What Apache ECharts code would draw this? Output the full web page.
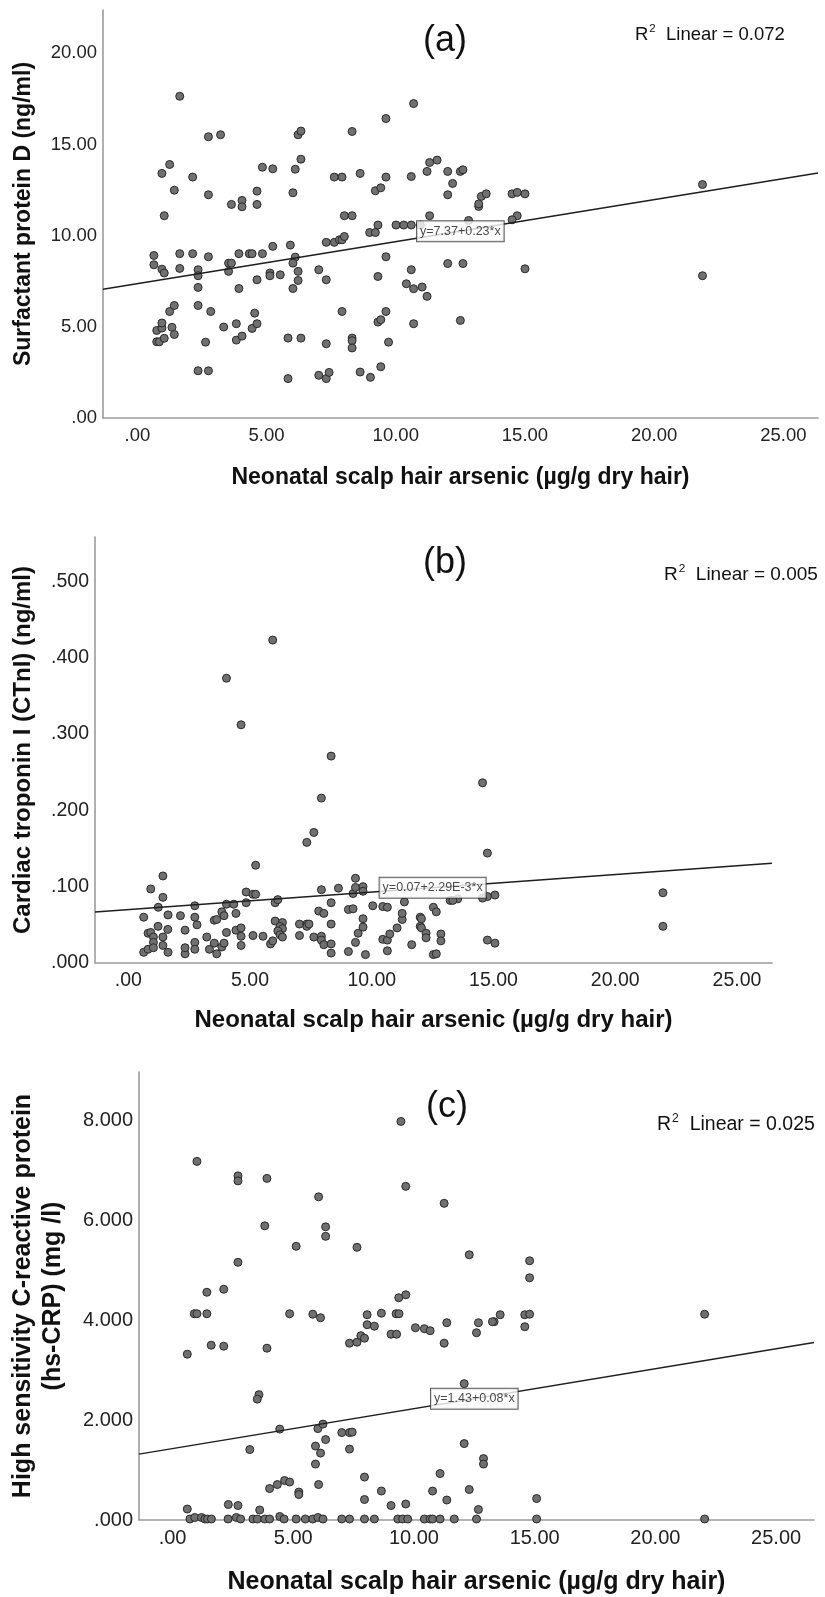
<!DOCTYPE html>
<html>
<head>
<meta charset="utf-8">
<title>Neonatal scalp hair arsenic scatter plots</title>
<script src="https://cdn.jsdelivr.net/npm/echarts@6/dist/echarts.min.js"></script>
<style>
  html, body { margin: 0; padding: 0; background: #fff; }
  #chart { width: 825px; height: 1597px; }
</style>
</head>
<body>
<div id="chart"></div>
<script>
// tick values
const xTicks = [0, 5, 10, 15, 20, 25];
const aYTicks = [0, 5, 10, 15, 20];
const bYTicks = [0, 0.1, 0.2, 0.3, 0.4, 0.5];
const cYTicks = [0, 2, 4, 6, 8];

// (a) surfactant protein D
const aPoints = [
  [1.64,17.64],[0.95,13.41],[1.25,13.90],[1.43,12.49],[1.04,11.09],[2.14,13.21],[2.75,15.42],[3.22,15.53],
  [2.75,12.24],[3.64,11.71],[4.05,11.93],[4.05,11.58],[4.63,12.44],[4.63,11.71],[4.84,13.75],[5.24,13.66],
  [6.02,12.35],[6.11,13.64],[6.22,15.53],[6.33,15.73],[6.33,14.19],[7.62,13.21],[7.92,13.21],[8.62,13.41],
  [8.31,15.71],[8.01,11.09],[8.31,11.09],[9.21,12.46],[9.42,12.62],[9.62,13.21],[9.62,16.42],[10.60,13.24],
  [10.69,17.24],[8.99,10.17],[9.21,10.17],[9.31,10.58],[10.01,10.58],[10.31,10.58],[10.60,10.58],
  [0.64,8.91],[0.64,8.40],[0.95,8.16],[1.04,7.95],[1.64,9.01],[1.64,8.20],[2.14,9.01],[2.35,8.13],
  [2.35,7.80],[2.35,7.16],[2.75,8.84],[3.53,8.49],[3.64,8.49],[3.53,8.04],[3.93,9.01],[3.93,7.10],
  [4.33,9.01],[4.44,9.01],[4.84,9.01],[4.63,7.58],[5.24,9.41],[5.13,7.95],[5.13,7.80],[5.53,7.85],
  [5.92,9.48],[6.11,8.82],[6.02,8.49],[6.22,8.04],[6.22,7.54],[6.02,7.10],[7.02,8.13],[7.31,9.63],
  [7.62,9.63],[7.82,9.77],[7.92,9.77],[8.01,9.95],[7.31,7.58],[9.62,8.84],[9.31,7.76],[10.60,8.13],
  [10.41,7.36],[10.69,7.09],
  [0.75,4.18],[0.85,4.18],[0.75,4.80],[0.95,4.93],[0.95,5.21],[1.04,4.37],[1.34,4.97],[1.43,4.58],
  [1.25,5.84],[1.43,6.17],[2.35,6.17],[2.84,5.84],[2.64,4.16],[2.35,2.59],[2.75,2.59],[3.34,4.99],
  [3.83,5.17],[3.83,4.27],[4.05,4.49],[4.44,4.91],[4.63,5.17],[4.54,5.75],[5.83,4.38],[6.33,4.38],
  [5.83,2.16],[7.02,2.34],[7.31,2.16],[7.42,2.50],[7.31,4.07],[7.92,5.84],[8.31,4.38],[8.31,4.24],
  [8.31,3.84],[8.62,2.52],[9.02,2.23],[9.42,2.81],[9.31,5.26],[9.42,5.39],[9.62,5.84],[9.72,4.16],
  [10.69,5.17],
  [11.31,14.01],[11.60,14.14],[11.21,13.52],[12.01,13.52],[12.50,13.52],[12.60,13.61],[12.20,12.86],
  [12.01,12.24],[13.21,11.60],[13.21,11.74],[13.31,12.15],[13.50,12.29],[14.50,12.29],[14.70,12.37],
  [15.00,12.29],[14.70,11.09],[14.50,10.87],[11.31,11.09],[10.95,10.58],[12.82,10.83],[21.87,12.80],
  [21.87,7.80],[11.02,7.18],[11.21,6.67],[12.01,8.47],[12.60,8.47],[15.00,8.18],[12.50,5.35]
];

// (b) cardiac troponin I
const bPoints = [
  [5.93,0.423],[4.03,0.373],[4.63,0.312],[8.33,0.271],[7.93,0.216],[7.62,0.171],[7.33,0.158],[5.23,0.128],
  [1.42,0.114],[0.92,0.097],[1.42,0.086],[1.23,0.073],[0.63,0.060],[1.63,0.063],[2.14,0.062],[2.73,0.075],
  [2.73,0.060],[2.82,0.050],[2.33,0.043],[1.22,0.048],[1.62,0.044],[0.81,0.039],[0.92,0.040],[1.03,0.034],
  [1.42,0.034],[1.03,0.027],[1.42,0.023],[1.63,0.014],[0.63,0.014],[0.81,0.018],[1.03,0.020],[2.33,0.012],
  [2.33,0.020],[2.73,0.027],[2.73,0.018],[3.22,0.034],[3.33,0.018],[3.53,0.026],[3.63,0.012],[3.84,0.021],
  [3.93,0.026],[3.53,0.056],[3.63,0.057],[3.84,0.067],[3.93,0.062],[4.03,0.077],[4.33,0.077],[4.42,0.065],
  [4.03,0.040],[4.42,0.043],[4.63,0.046],[4.63,0.035],[4.63,0.023],[4.84,0.093],[4.84,0.079],[5.12,0.090],
  [5.23,0.090],[5.12,0.036],[5.53,0.035],[5.84,0.025],[5.93,0.029],[6.03,0.079],[6.14,0.083],[6.03,0.055],
  [6.33,0.053],[6.23,0.048],[6.33,0.045],[6.14,0.042],[6.23,0.037],[6.33,0.034],[7.03,0.051],[7.33,0.051],
  [7.33,0.048],[7.42,0.051],[7.03,0.036],[7.62,0.034],[7.93,0.035],[7.93,0.030],[8.03,0.024],[8.33,0.025],
  [8.33,0.013],[8.33,0.051],[7.82,0.068],[8.03,0.065],[8.33,0.079],[7.93,0.096],[8.63,0.098],[9.04,0.070],
  [9.23,0.071],[9.04,0.015],[9.33,0.027],[9.44,0.039],[9.64,0.047],[9.64,0.058],[9.74,0.011],[9.33,0.111],
  [9.23,0.091],[9.33,0.099],[9.64,0.100],[9.64,0.094],[10.04,0.075],[10.45,0.074],[10.64,0.073],[10.45,0.031],
  [10.64,0.030],[10.64,0.016],[10.74,0.038],[11.04,0.046],[11.25,0.057],[11.25,0.065],[11.34,0.080],[11.64,0.024],
  [11.99,0.060],[11.99,0.048],
  [14.55,0.236],[14.75,0.144],[15.06,0.089],[14.75,0.087],[14.55,0.085],[13.53,0.084],[13.22,0.082],[13.33,0.082],
  [12.53,0.073],[12.65,0.067],[12.04,0.058],[12.04,0.046],[12.23,0.039],[12.23,0.033],[12.84,0.038],[12.84,0.029],
  [12.53,0.011],[12.65,0.012],[14.75,0.030],[15.06,0.026],[21.96,0.092],[21.96,0.048]
];

// (c) hs-CRP
const cPoints = [
  [1.01,7.18],[0.61,3.32],[0.90,4.13],[1.01,4.13],[1.42,4.13],[1.42,4.56],[1.60,3.50],[2.12,4.62],
  [2.12,3.48],[2.71,6.89],[2.71,6.79],[2.71,5.16],[3.91,6.84],[3.82,5.89],[3.91,3.44],[4.85,4.13],
  [5.12,5.48],[6.05,6.47],[6.34,5.87],[6.34,5.68],[5.81,4.12],[6.13,4.05],[7.64,5.46],[7.33,3.54],
  [7.64,3.56],[7.80,3.69],[7.95,3.64],[8.06,4.11],[8.06,3.91],[8.36,3.88],[8.65,4.14],[9.05,3.72],
  [9.28,3.72],[9.26,4.13],[9.38,4.13],[9.37,4.45],[9.66,4.51],[9.46,7.98],[9.66,6.68],[10.06,3.85],
  [3.58,2.51],[3.51,2.42],[4.44,1.82],[3.20,1.41],[6.02,1.83],[6.23,1.92],[6.34,1.61],[5.92,1.48],
  [6.13,1.34],[5.92,1.12],[6.05,0.71],[7.01,1.75],[7.33,1.75],[7.44,1.76],[7.33,1.42],[4.02,0.63],
  [4.34,0.71],[4.64,0.79],[4.85,0.76],[5.23,0.56],[5.23,0.51],[7.95,0.86],[7.95,0.41],[8.65,0.58],
  [9.05,0.29],[9.66,0.32],[0.61,0.22],[2.31,0.31],[2.71,0.29],[3.61,0.20],
  [0.72,0.02],[0.92,0.05],[1.20,0.05],[1.34,0.02],[1.45,0.02],[1.61,0.02],[2.30,0.02],[2.64,0.05],
  [2.82,0.02],[3.33,0.02],[3.51,0.02],[3.82,0.02],[4.02,0.02],[4.44,0.07],[4.62,0.02],[5.12,0.02],
  [5.50,0.02],[5.81,0.02],[6.02,0.05],[6.23,0.02],[7.01,0.02],[7.33,0.02],[7.95,0.02],[8.36,0.02],
  [9.33,0.02],[9.53,0.02],[9.74,0.02],
  [11.25,6.34],[12.29,5.31],[14.79,5.19],[14.79,4.85],[14.59,4.11],[14.79,4.12],[14.59,3.87],[13.57,4.11],
  [13.32,3.97],[13.25,3.97],[12.67,3.95],[12.59,3.75],[11.36,3.95],[11.25,3.54],[10.43,3.83],[10.67,3.79],
  [22.04,4.12],[12.08,2.73],[12.08,1.53],[12.88,1.23],[12.88,1.12],[11.08,0.93],[10.77,0.58],[12.29,0.61],
  [11.36,0.40],[12.67,0.21],[15.08,0.43],[10.43,0.02],[10.67,0.02],[10.77,0.02],[11.08,0.02],[11.67,0.02],
  [12.59,0.02],[15.08,0.02],[22.04,0.02]
];

// fit lines [intercept, slope] and their texts
const aFit = [7.37, 0.23];
const bFit = [0.07, 0.00229];
const cFit = [1.43, 0.08];
const fitLabels = ['y=7.37+0.23*x', 'y=0.07+2.29E-3*x', 'y=1.43+0.08*x'];
const r2Values = ['0.072', '0.005', '0.025'];
const panelTags = ['(a)', '(b)', '(c)'];
const labelAt = 12.5; // x where the equation box sits

const FONT = "'Liberation Sans', Arial, sans-serif";
const xName = 'Neonatal scalp hair arsenic (\u00b5g/g dry hair)';

// SPSS style numbers: .00, 5.00, .100 ...
function spss (digits) {
  return function (v) {
    var s = Number(v).toFixed(digits)
    return s.indexOf('0.') === 0 ? s.slice(1) : s
  }
}

const panels = [
  {
    grid: { left: 103, top: 10, width: 715, height: 408 },
    x: [-1.33, 26.34], y: [0, 22.37], yTicks: aYTicks, yDigits: 2,
    points: aPoints, fit: aFit,
    yName: 'Surfactant protein D (ng/ml)', yGap: 64,
    tickSize: 18.5, nameSize: 23, xGap: 48,
    tag: [445, 41], r2: [635, 35], r2Size: 18.5
  },
  {
    grid: { left: 95, top: 537, width: 677, height: 426 },
    x: [-1.37, 26.44], y: [0, 0.558], yTicks: bYTicks, yDigits: 3,
    points: bPoints, fit: bFit,
    yName: 'Cardiac troponin I (CTnI) (ng/ml)', yGap: 57,
    tickSize: 19.5, nameSize: 24, xGap: 45,
    tag: [445, 563], r2: [664, 575], r2Size: 19
  },
  {
    grid: { left: 137, top: 1072, width: 677, height: 448 },
    x: [-1.39, 26.57], y: [0, 8.97], yTicks: cYTicks, yDigits: 3,
    points: cPoints, fit: cFit,
    yName: 'High sensitivity C-reactive protein\n(hs-CRP) (mg /l)', yGap: 71,
    tickSize: 20, nameSize: 25, xGap: 50,
    tag: [447, 1107], r2: [657, 1125], r2Size: 19.5
  }
];

const axisLine = { show: true, onZero: false, lineStyle: { color: '#9c9c9c', width: 1.6 } };

const option = {
  animation: false,
  backgroundColor: '#fff',
  grid: panels.map(p => p.grid),
  xAxis: panels.map((p, i) => ({
    gridIndex: i,
    type: 'value',
    min: p.x[0],
    max: p.x[1],
    axisLine: axisLine,
    axisTick: { show: false },
    splitLine: { show: false },
    axisLabel: {
      customValues: xTicks,
      formatter: spss(2),
      color: '#222',
      fontFamily: FONT,
      fontSize: p.tickSize,
      margin: 8
    },
    name: xName,
    nameLocation: 'middle',
    nameGap: p.xGap,
    nameTextStyle: { color: '#111', fontFamily: FONT, fontWeight: 'bold', fontSize: p.nameSize }
  })),
  yAxis: panels.map((p, i) => ({
    gridIndex: i,
    type: 'value',
    min: p.y[0],
    max: p.y[1],
    axisLine: axisLine,
    axisTick: { show: false },
    splitLine: { show: false },
    axisLabel: {
      customValues: p.yTicks,
      formatter: spss(p.yDigits),
      color: '#222',
      fontFamily: FONT,
      fontSize: p.tickSize,
      margin: 6
    },
    name: p.yName,
    nameLocation: 'middle',
    nameGap: p.yGap,
    nameTextStyle: { color: '#111', fontFamily: FONT, fontWeight: 'bold', fontSize: p.nameSize, lineHeight: 30 }
  })),
  series: [],
  graphic: []
}

panels.forEach((p, i) => {
  option.series.push({
    type: 'scatter',
    xAxisIndex: i,
    yAxisIndex: i,
    data: p.points,
    symbolSize: 8,
    itemStyle: { color: '#707070', borderColor: '#2a2a2a', borderWidth: 1, opacity: 1 },
    z: 2
  })
  option.series.push({
    type: 'line',
    xAxisIndex: i,
    yAxisIndex: i,
    data: [p.x[0], p.x[1]].map(x => [x, p.fit[0] + p.fit[1] * x]),
    symbol: 'none',
    lineStyle: { color: '#1e1e1e', width: 1.5 },
    silent: true,
    z: 3
  })
  // equation box sitting on the fit line
  option.series.push({
    type: 'scatter',
    xAxisIndex: i,
    yAxisIndex: i,
    data: [[labelAt, p.fit[0] + p.fit[1] * labelAt]],
    symbolSize: 2,
    itemStyle: { color: 'rgba(0,0,0,0)', borderWidth: 0 },
    silent: true,
    z: 5,
    label: {
      show: true,
      position: 'inside',
      formatter: fitLabels[i],
      color: '#1a1a1a',
      fontFamily: FONT,
      fontSize: 12.5,
      backgroundColor: '#fff',
      borderColor: '#333',
      borderWidth: 1,
      padding: [4, 3, 3, 3]
    }
  })
  option.graphic.push({
    type: 'text',
    x: p.tag[0],
    y: p.tag[1],
    style: { text: panelTags[i], font: '36px ' + FONT, fill: '#111', align: 'center', verticalAlign: 'middle' }
  })
  option.graphic.push({
    type: 'text',
    x: p.r2[0],
    y: p.r2[1],
    style: {
      text: '{n|R}{s|2}{n|  Linear = ' + r2Values[i] + '}',
      fill: '#111',
      align: 'left',
      verticalAlign: 'middle',
      rich: {
        n: { fontFamily: FONT, fontSize: p.r2Size, fill: '#111', lineHeight: 24 },
        s: { fontFamily: FONT, fontSize: p.r2Size * 0.62, fill: '#111', lineHeight: 24, verticalAlign: 'top', padding: [0, 0, 8, 1] }
      }
    }
  })
})

var myChart = echarts.init(document.getElementById('chart'), null, { renderer: 'canvas' })
myChart.setOption(option)
</script>
</body>
</html>
